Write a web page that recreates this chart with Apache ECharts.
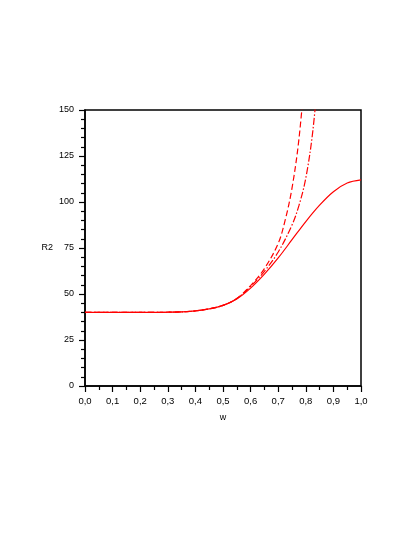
<!DOCTYPE html>
<html>
<head>
<meta charset="utf-8">
<script src="https://cdn.jsdelivr.net/npm/echarts@6/dist/echarts.min.js"></script>
<style>
html,body{margin:0;padding:0;background:#fff;}
#c{width:414px;height:535px;}
</style>
</head>
<body>
<div id="c"></div>
<script>
// Data
var wSolid = [0,0.05,0.1,0.15,0.2,0.25,0.3,0.35,0.4,0.45,0.5,0.55,0.6,0.65,0.7,0.75,0.8,0.85,0.9,0.95,1.0];
var rSolid = [40,40,40,40,40,40,40.1,40.3,40.8,41.9,43.8,47.3,53.2,60.8,69.6,79.5,89.4,98.3,105.6,110.3,112];

var wDashed = [0,0.05,0.1,0.15,0.2,0.25,0.3,0.35,0.4,0.45,0.5,0.55,0.6,0.65,0.7,0.725,0.75,0.775,0.8];
var rDashed = [40,40,40,40,40,40,40.1,40.3,40.8,41.9,43.8,47.6,54.6,63.8,77.5,90,107.5,134,175];

var wDashDot = [0,0.05,0.1,0.15,0.2,0.25,0.3,0.35,0.4,0.45,0.5,0.55,0.6,0.65,0.7,0.75,0.775,0.8,0.825,0.85];
var rDashDot = [40,40,40,40,40,40,40.1,40.3,40.8,41.9,43.8,47.5,54.1,62.3,72.8,87.5,98,113,138,178];

var xTicks = [0,0.1,0.2,0.3,0.4,0.5,0.6,0.7,0.8,0.9,1.0];
var yTicks = [0,25,50,75,100,125,150];

function pairs(xs, ys){ return xs.map(function(x,i){ return [x, ys[i]]; }); }

var font = 'Liberation Sans, Arial, Helvetica, sans-serif';
var chart = echarts.init(document.getElementById('c'), null, {renderer:'canvas'});
chart.setOption({
  backgroundColor: '#fff',
  animation: false,
  grid: {left: 85, right: 53, top: 110, bottom: 149, show: true, borderColor: '#000', borderWidth: 1.5, backgroundColor: 'transparent'},
  xAxis: {
    type: 'value', min: xTicks[0], max: xTicks[xTicks.length-1], interval: 0.1,
    name: 'w', nameLocation: 'middle', nameGap: 27,
    nameTextStyle: {color: '#000', fontSize: 9, fontFamily: font},
    axisLine: {show: true, lineStyle: {color: '#000', width: 1.5}},
    axisTick: {show: true, length: 6, inside: false, lineStyle: {color: '#000', width: 1.2}},
    minorTick: {show: true, splitNumber: 2, length: 4, lineStyle: {color: '#000', width: 1.2}},
    splitLine: {show: false},
    axisLabel: {color: '#000', fontSize: 9.5, fontFamily: font, margin: 10,
      formatter: function(v){ return v.toFixed(1).replace('.', ','); }}
  },
  yAxis: {
    type: 'value', min: yTicks[0], max: yTicks[yTicks.length-1], interval: 25,
    name: 'R2', nameLocation: 'middle', nameGap: 32, nameRotate: 0,
    nameTextStyle: {color: '#000', fontSize: 9, fontFamily: font},
    axisLine: {show: true, lineStyle: {color: '#000', width: 1.5}},
    axisTick: {show: true, length: 6, inside: false, lineStyle: {color: '#000', width: 1.2}},
    minorTick: {show: true, splitNumber: 5, length: 4, lineStyle: {color: '#000', width: 1.2}},
    splitLine: {show: false},
    axisLabel: {color: '#000', fontSize: 9, fontFamily: font, margin: 11}
  },
  series: [
    {type: 'line', data: pairs(wSolid, rSolid), showSymbol: false, smooth: 0.35, clip: true,
     lineStyle: {color: '#ff0000', width: 1.2, type: 'solid'}},
    {type: 'line', data: pairs(wDashed, rDashed), showSymbol: false, smooth: 0.35, clip: true,
     lineStyle: {color: '#ff0000', width: 1.2, type: [6, 3]}},
    {type: 'line', data: pairs(wDashDot, rDashDot), showSymbol: false, smooth: 0.35, clip: true,
     lineStyle: {color: '#ff0000', width: 1.2, type: [7, 2, 1.5, 2]}}
  ]
});
</script>
</body>
</html>
